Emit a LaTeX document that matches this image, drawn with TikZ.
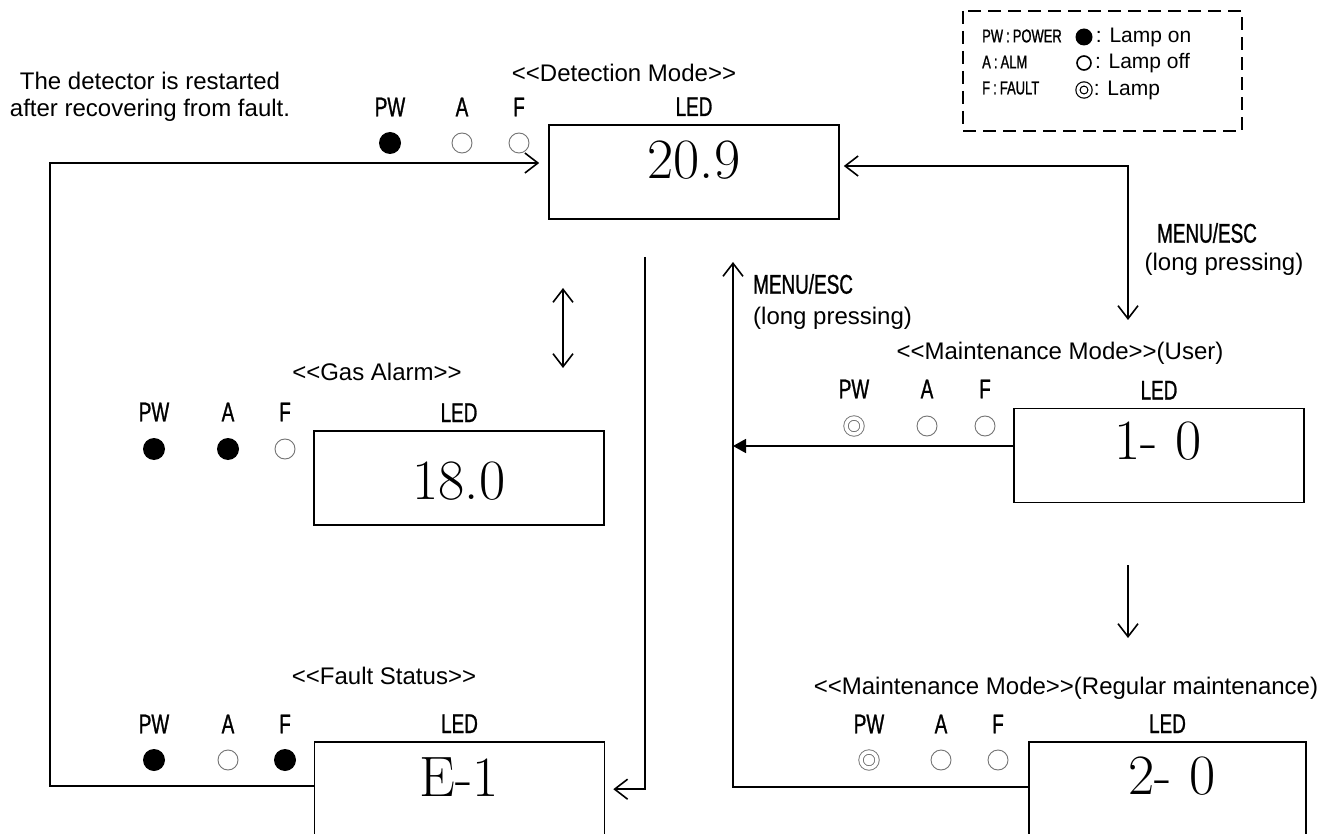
\documentclass[tikz,border=0pt]{standalone}
\usepackage{fontspec}
\usepackage{tikz}
\usetikzlibrary{arrows.meta,positioning,calc}
\newfontfamily\sansfont{Liberation Sans}
\newfontfamily\condfont[FakeStretch=0.7,FakeBold=1]{Liberation Sans}
\newcommand\dlt{<\kern0pt<}
\newcommand\dgt{>\kern0pt>}
\tikzset{
  ledbox/.style={draw, line width=1.6pt, minimum width=290pt, minimum height=94pt, inner sep=0pt},
  ledval/.style={inner sep=0pt, font=\fontsize{57}{62}\selectfont},
  tag/.style={inner sep=0pt, font=\condfont\fontsize{27}{30}\selectfont},
  keytag/.style={inner sep=0pt, font=\condfont\fontsize{18.5}{22}\selectfont},
  modetitle/.style={inner sep=0pt, font=\sansfont\fontsize{24}{27}\selectfont},
  keytext/.style={inner sep=0pt, font=\sansfont\fontsize{21}{24}\selectfont},
  lampon/.style={circle, fill=black, minimum size=22pt, inner sep=0pt},
  lampoff/.style={circle, draw=black!55, line width=0.9pt, minimum size=20pt, inner sep=0pt},
  lampblink/.style={circle, draw=black!55, line width=0.9pt, double, double distance=3.5pt, minimum size=16pt, inner sep=0pt},
  line/.style={line width=1.6pt},
  barb/.style={line, -{Straight Barb[length=13pt,width=20pt]}},
  twobarb/.style={line, {Straight Barb[length=13pt,width=20pt]}-{Straight Barb[length=13pt,width=20pt]}}
}

\begin{document}
\begin{tikzpicture}[x=1pt, y=-1pt]
  \useasboundingbox[fill=white] (0,0) rectangle (1336,834);

  % legend
  \draw[line width=2.2pt, dash pattern=on 13pt off 7pt] (963,11) rectangle (1242,131);
  \node[keytag, anchor=west] (kpw) at (982,36) {PW\,:\,POWER};
  \node[keytag, anchor=west] (ka) at (982,62) {A\,:\,ALM};
  \node[keytag, anchor=west] (kf) at (982,88) {F\,:\,FAULT};
  \node[lampon, minimum size=17pt] (kon) at (1084,37) {};
  \node[lampoff, draw=black, line width=1.6pt, minimum size=14pt] (koff) at (1084,63) {};
  \node[lampblink, draw=black, line width=1.2pt, minimum size=12pt, double distance=3pt] (kblink) at (1084,90) {};
  \node[keytext, right=3pt of kon] (kont) {: Lamp on};
  \node[keytext, right=3pt of koff] (kofft) {: Lamp off};
  \node[keytext, right=3pt of kblink] (kblinkt) {: Lamp};

  \node[modetitle, align=center] (note) at (150,97) {The detector is restarted\\after recovering from fault.};

  % detection mode
  \node[ledbox] (det) at (694,172) {};
  \node[ledval] (detv) at (694,160) {20.9};
  \node[tag, above=8pt of det] (detled) {LED};
  \node[modetitle] (dett) at (624,73) {\dlt Detection Mode\dgt};
  \node[tag] (detpw) at (390,107) {PW};
  \node[tag] (deta) at (462,107) {A};
  \node[tag] (detf) at (519,107) {F};
  \node[lampon] (detpwl) at (390,143) {};
  \node[lampoff] (detal) at (462,143) {};
  \node[lampoff] (detfl) at (519,143) {};

  % gas alarm
  \node[ledbox] (gas) at (459,478) {};
  \node[ledval] (gasv) at (459,481) {18.0};
  \node[tag, above=8pt of gas] (gasled) {LED};
  \node[modetitle] (gast) at (377,372) {\dlt Gas Alarm\dgt};
  \node[tag] (gaspw) at (154,412) {PW};
  \node[tag] (gasa) at (228,412) {A};
  \node[tag] (gasf) at (285,412) {F};
  \node[lampon] (gaspwl) at (154,449) {};
  \node[lampon] (gasal) at (228,449) {};
  \node[lampoff] (gasfl) at (285,449) {};

  % maintenance mode (user)
  \node[ledbox] (user) at (1159,455.5) {};
  \node[ledval] (userv) at (1158,441) {1- 0};
  \node[tag, above=8pt of user] (userled) {LED};
  \node[modetitle] (usert) at (1060,353) {\dlt Maintenance Mode\dgt(User)};
  \node[tag] (userpw) at (854,389) {PW};
  \node[tag] (usera) at (927,389) {A};
  \node[tag] (userf) at (985,389) {F};
  \node[lampblink] (userpwl) at (854,426) {};
  \node[lampoff] (useral) at (927,426) {};
  \node[lampoff] (userfl) at (985,426) {};

  % fault status
  \node[ledbox] (fault) at (459.5,789) {};
  \node[ledval] (faultv) at (459,777) {E-1};
  \node[tag, above=8pt of fault] (faultled) {LED};
  \node[modetitle] (faultt) at (384,676) {\dlt Fault Status\dgt};
  \node[tag] (faultpw) at (154,724) {PW};
  \node[tag] (faulta) at (228,724) {A};
  \node[tag] (faultf) at (285,724) {F};
  \node[lampon] (faultpwl) at (154,760) {};
  \node[lampoff] (faultal) at (228,760) {};
  \node[lampon] (faultfl) at (285,760) {};

  % maintenance mode (regular)
  \node[ledbox, minimum width=277pt] (reg) at (1167.5,789) {};
  \node[ledval] (regv) at (1172,776) {2- 0};
  \node[tag, above=8pt of reg] (regled) {LED};
  \node[modetitle] (regt) at (1066,688) {\dlt Maintenance Mode\dgt(Regular maintenance)};
  \node[tag] (regpw) at (869,724) {PW};
  \node[tag] (rega) at (941,724) {A};
  \node[tag] (regf) at (998,724) {F};
  \node[lampblink] (regpwl) at (869,760) {};
  \node[lampoff] (regal) at (941,760) {};
  \node[lampoff] (regfl) at (998,760) {};

  % key labels
  \node[tag] (menur) at (1207,233) {MENU/ESC};
  \node[modetitle] (longr) at (1224,264) {(long pressing)};
  \node[tag, anchor=west] (menul) at (753,284) {MENU/ESC};
  \node[modetitle, anchor=west] (longl) at (753,318) {(long pressing)};

  % connectors
  \coordinate (rst) at (50,163);
  \coordinate (swa) at (563,288);
  \coordinate (swb) at (563,368);
  \coordinate (menud) at (1128,320);
  \coordinate (menuu) at (733,262);
  \coordinate (uda) at (1128,565);
  \coordinate (udb) at (1128,638);
  \coordinate (uw) at ([yshift=9.5pt]user.west);
  \draw[barb] ([yshift=-45pt]fault.north west) -| (rst) -- ([xshift=-9pt]det.west |- rst);
  \draw[barb] ([xshift=-49pt,yshift=-37pt]det.south) |- ([xshift=8pt,yshift=-48pt]fault.north east);
  \draw[twobarb] (swa) -- (swb);
  \draw[twobarb] ([xshift=4pt,yshift=6pt]det.east) -| (menud);
  \draw[barb] ([yshift=-46pt]reg.north west) -| (menuu);
  \draw[line, -{Triangle[length=13pt,width=14pt]}] (uw) -- (menuu |- uw);
  \draw[barb] (uda) -- (udb);
\end{tikzpicture}
\end{document}
